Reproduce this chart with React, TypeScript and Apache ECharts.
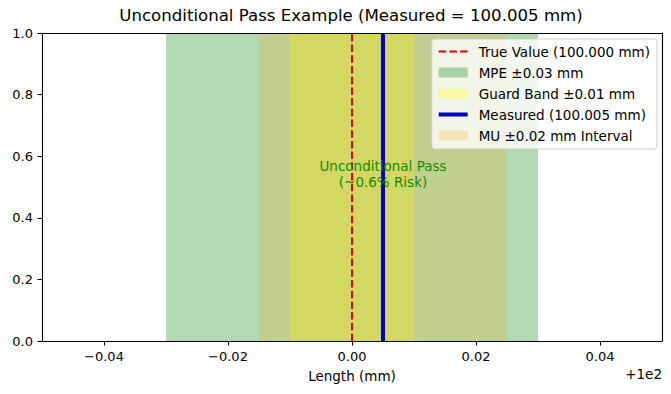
import React, { useEffect, useRef } from "react";
import * as echarts from "echarts";

// Offsets from 100 mm (axis shows "+1e2")
const xTickValues = [-0.04, -0.02, 0, 0.02, 0.04];
const yTickInterval = 0.2;
const xRange = [-0.05, 0.05];
const yRange = [0, 1];

const trueValue = 0.0;
const measuredValue = 0.005;

const bandNames = ["MPE ±0.03 mm", "Guard Band ±0.01 mm", "MU ±0.02 mm Interval"];
const bandLow = [-0.03, -0.01, -0.015];
const bandHigh = [0.03, 0.01, 0.025];
const bandColors = ["rgba(0,128,0,0.3)", "rgba(255,255,0,0.3)", "rgba(255,165,0,0.2)"];

const legendOrder = [
  "True Value (100.000 mm)",
  "MPE ±0.03 mm",
  "Guard Band ±0.01 mm",
  "Measured (100.005 mm)",
  "MU ±0.02 mm Interval",
];

const annotationPos = [0.005, 0.5];
const annotationText = "Unconditional Pass\n(~0.6% Risk)";

const FONT = "DejaVu Sans";
const RED = "#e00000";
const BLUE = "#0000c8";

function fmtX(v: number) {
  const a = Math.abs(v).toFixed(2);
  return (v < -1e-12 ? "\u2212" : "") + a;
}

export default function App() {
  const ref = useRef<HTMLDivElement>(null);
  useEffect(() => {
    if (!ref.current) return;
    const chart = echarts.init(ref.current, null, { renderer: "svg" });

    const bandSeries = bandNames.map((name, i) => ({
      name,
      type: "custom",
      z: 1,
      xAxisIndex: 0,
      yAxisIndex: 0,
      itemStyle: { color: bandColors[i] },
      encode: { x: [0, 1], y: [2, 3] },
      data: [[bandLow[i], bandHigh[i], yRange[0], yRange[1]]],
      renderItem: (params: any, api: any) => {
        const p1 = api.coord([api.value(0), api.value(3)]);
        const p2 = api.coord([api.value(1), api.value(2)]);
        return {
          type: "rect",
          shape: { x: p1[0], y: p1[1], width: p2[0] - p1[0], height: p2[1] - p1[1] },
          style: { fill: bandColors[i] },
        };
      },
    }));

    const hiddenSymbol = {
      opacity: 0,
      color: "rgba(0,0,0,0)",
      borderColor: "rgba(0,0,0,0)",
      borderWidth: 0,
    };

    const legendData = legendOrder.map((n) => {
      if (n.startsWith("True"))
        return { name: n, itemStyle: hiddenSymbol, lineStyle: { color: RED, width: 2, type: [7.5, 3.2] } };
      if (n.startsWith("Measured"))
        return { name: n, itemStyle: hiddenSymbol, lineStyle: { color: BLUE, width: 4, type: "solid" } };
      return { name: n, icon: "rect" };
    });

    const option: any = {
      animation: false,
      title: {
        text: "Unconditional Pass Example (Measured = 100.005 mm)",
        left: 351,
        top: 7,
        textAlign: "center",
        padding: 0,
        textStyle: { fontFamily: FONT, fontSize: 16.6, fontWeight: "normal", color: "#000" },
      },
      grid: {
        left: 42,
        right: 9,
        top: 33,
        bottom: 53,
        containLabel: false,
        outerBoundsMode: "none",
      },
      legend: {
        orient: "vertical",
        right: 14,
        top: 39,
        selectedMode: false,
        backgroundColor: "rgba(255,255,255,0.8)",
        borderColor: "#cccccc",
        borderWidth: 1,
        borderRadius: 3,
        padding: [5, 7, 6, 5],
        itemWidth: 29,
        itemHeight: 10,
        itemGap: 6,
        align: "left",
        textStyle: {
          fontFamily: FONT,
          fontSize: 13.5,
          color: "#000",
          lineHeight: 15,
          padding: [0, 0, 0, 6],
        },
        data: legendData,
      },
      xAxis: [
        {
          type: "value",
          min: xRange[0],
          max: xRange[1],
          z: 10,
          splitLine: { show: false },
          axisLine: { show: true, onZero: false, lineStyle: { color: "#000", width: 1.1 } },
          axisTick: {
            show: true,
            length: 4.5,
            customValues: xTickValues,
            lineStyle: { color: "#000", width: 1.1 },
          },
          axisLabel: {
            customValues: xTickValues,
            formatter: (v: number) => fmtX(v),
            margin: 9,
            fontFamily: FONT,
            fontSize: 13,
            color: "#000",
          },
          name: "Length (mm)",
          nameLocation: "middle",
          nameGap: 28,
          nameTextStyle: { fontFamily: FONT, fontSize: 13.5, color: "#000" },
        },
        {
          type: "value",
          position: "top",
          min: xRange[0],
          max: xRange[1],
          z: 10,
          splitLine: { show: false },
          axisLine: { show: true, onZero: false, lineStyle: { color: "#000", width: 1.1 } },
          axisTick: { show: false },
          axisLabel: { show: false },
        },
      ],
      yAxis: [
        {
          type: "value",
          min: yRange[0],
          max: yRange[1],
          interval: yTickInterval,
          z: 10,
          splitLine: { show: false },
          axisLine: { show: true, onZero: false, lineStyle: { color: "#000", width: 1.1 } },
          axisTick: { show: true, length: 4.5, lineStyle: { color: "#000", width: 1.1 } },
          axisLabel: {
            formatter: (v: number) => v.toFixed(1),
            margin: 9,
            fontFamily: FONT,
            fontSize: 13,
            color: "#000",
          },
        },
        {
          type: "value",
          position: "right",
          min: yRange[0],
          max: yRange[1],
          z: 10,
          splitLine: { show: false },
          axisLine: { show: true, onZero: false, lineStyle: { color: "#000", width: 1.1 } },
          axisTick: { show: false },
          axisLabel: { show: false },
        },
      ],
      series: [
        ...bandSeries,
        {
          name: "True Value (100.000 mm)",
          type: "line",
          z: 3,
          symbol: "none",
          showSymbol: false,
          color: RED,
          lineStyle: { color: RED, width: 2, type: [7.5, 3.2] },
          data: [
            [trueValue, yRange[0]],
            [trueValue, yRange[1]],
          ],
        },
        {
          name: "Measured (100.005 mm)",
          type: "line",
          z: 3,
          symbol: "none",
          showSymbol: false,
          color: BLUE,
          lineStyle: { color: BLUE, width: 4, type: "solid" },
          data: [
            [measuredValue, yRange[0]],
            [measuredValue, yRange[1]],
          ],
        },
        {
          name: "annotation",
          type: "custom",
          z: 5,
          encode: { x: 0, y: 1 },
          data: [annotationPos],
          renderItem: (params: any, api: any) => {
            const p = api.coord([api.value(0), api.value(1)]);
            return {
              type: "text",
              x: p[0],
              y: p[1] + 3,
              style: {
                text: annotationText,
                fill: "#138a00",
                fontFamily: FONT,
                fontSize: 13.5,
                lineHeight: 16,
                align: "center",
                verticalAlign: "bottom",
              },
            };
          },
        },
      ],
      graphic: [
        {
          type: "text",
          right: 9,
          top: 367,
          style: { text: "+1e2", fontFamily: FONT, fontSize: 13.5, fill: "#000" },
        },
      ],
    };

    chart.setOption(option);
    return () => chart.dispose();
  }, []);

  return (
    <div
      ref={ref}
      style={{ position: "absolute", left: 0, top: 0, width: 671, height: 394, background: "#fff" }}
    />
  );
}
